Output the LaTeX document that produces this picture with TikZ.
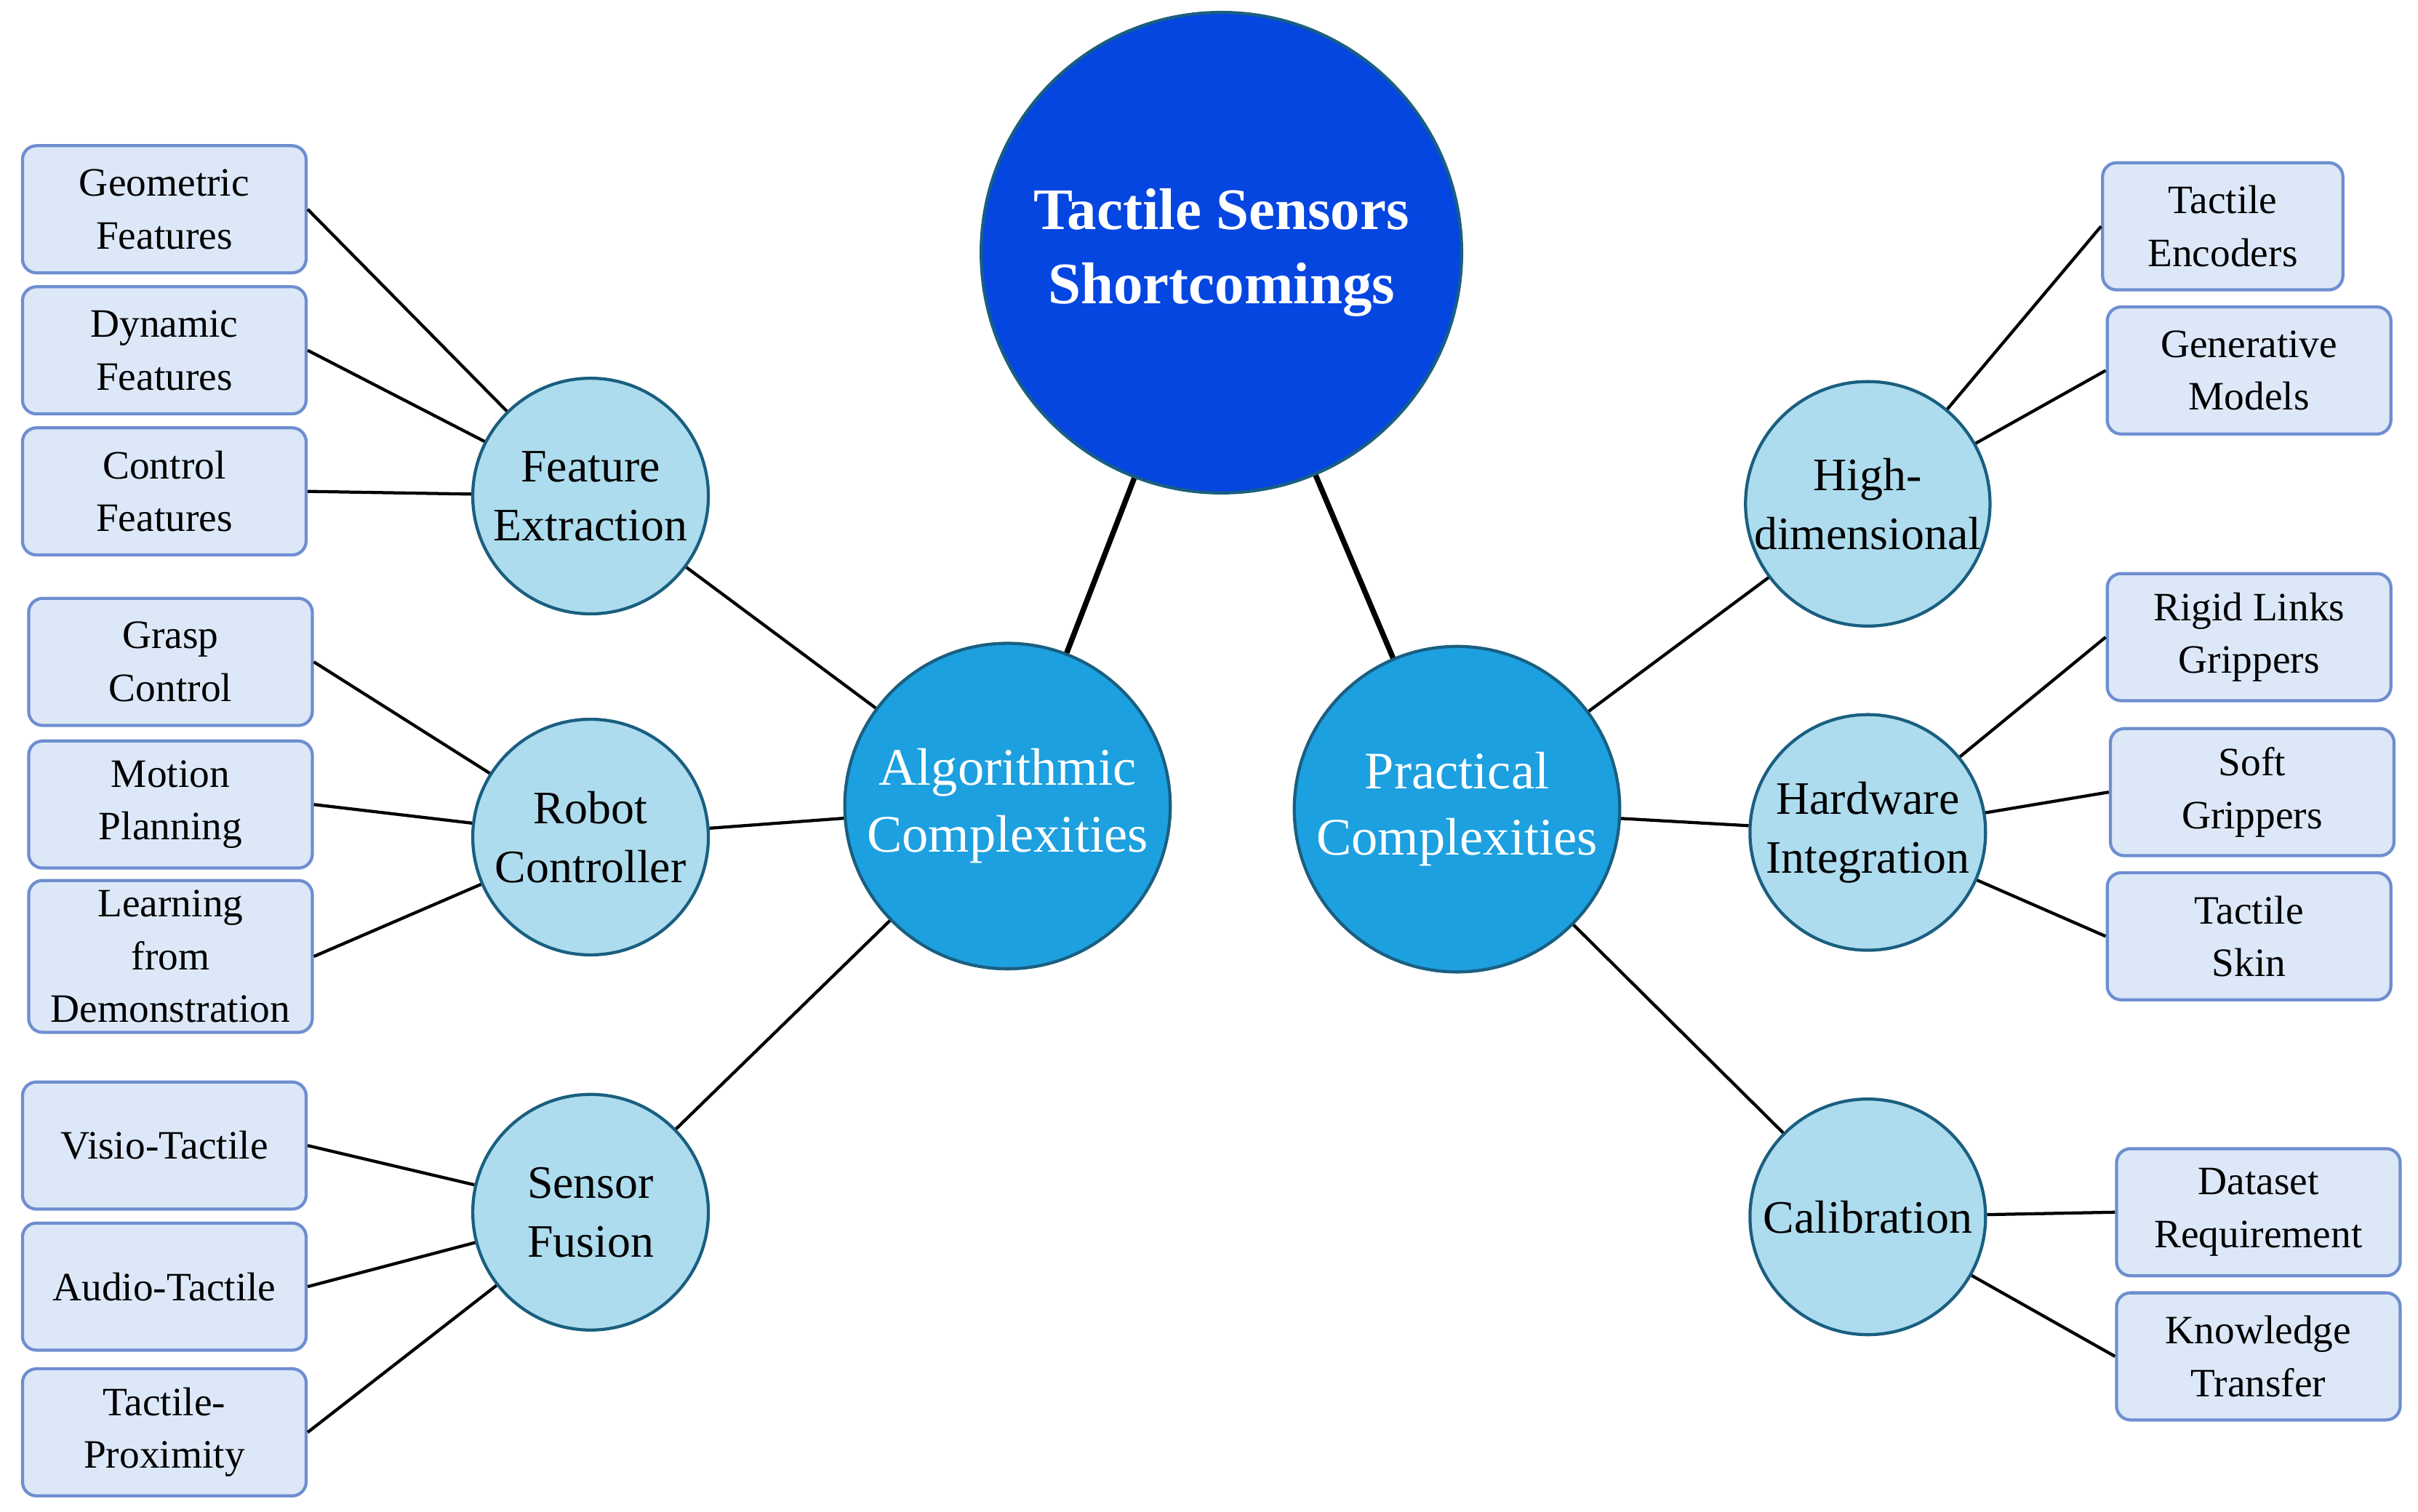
\documentclass[tikz,border=0pt]{standalone}
\usepackage{fontspec}
\setmainfont{Liberation Serif}
\definecolor{rootc}{HTML}{0546E0}
\definecolor{mainc}{HTML}{1CA0E0}
\definecolor{subc}{HTML}{ADDCEE}
\definecolor{leafc}{HTML}{DCE8F8}
\definecolor{leafb}{HTML}{6E8ED0}
\definecolor{edgec}{HTML}{1A5F80}
\begin{document}
\begin{tikzpicture}[x=1pt,y=-1pt,
 root/.style={circle,draw=edgec,line width=2pt,fill=rootc,minimum size=310pt,inner sep=0pt,align=center,text=white,font=\fontsize{38}{48}\selectfont\bfseries},
 main/.style={circle,draw=edgec,line width=2pt,fill=mainc,minimum size=210pt,inner sep=0pt,align=center,text=white,font=\fontsize{34}{43}\selectfont},
 sub/.style={circle,draw=edgec,line width=2pt,fill=subc,minimum size=152pt,inner sep=0pt,align=center,font=\fontsize{30}{38}\selectfont},
 leaf/.style={rectangle,rounded corners=9pt,draw=leafb,line width=2pt,fill=leafc,minimum width=183pt,minimum height=82pt,inner sep=2pt,align=center,font=\fontsize{26}{34}\selectfont},
 e/.style={line width=2pt},
 te/.style={line width=3.5pt}]
\useasboundingbox (0,0) rectangle (1560,975);
\node[root] (r) at (788,163) {Tactile Sensors\\Shortcomings};
\node[main] (a) at (650,520) {Algorithmic\\Complexities};
\node[main] (p) at (940,522) {Practical\\Complexities};
\node[sub] (fe) at (381,320) {Feature\\Extraction};
\node[sub] (rc) at (381,540) {Robot\\Controller};
\node[sub] (sf) at (381,782) {Sensor\\Fusion};
\node[sub] (hd) at (1205,325) {High-\\dimensional};
\node[sub] (hi) at (1205,537) {Hardware\\Integration};
\node[sub] (ca) at (1205,785) {Calibration};
\node[leaf] (l1) at (106,135) {Geometric\\Features};
\node[leaf] (l2) at (106,226) {Dynamic\\Features};
\node[leaf] (l3) at (106,317) {Control\\Features};
\node[leaf] (l4) at (110,427) {Grasp\\Control};
\node[leaf] (l5) at (110,519) {Motion\\Planning};
\node[leaf,minimum height=98pt] (l6) at (110,617) {Learning\\from\\Demonstration};
\node[leaf] (l7) at (106,739) {Visio-Tactile};
\node[leaf] (l8) at (106,830) {Audio-Tactile};
\node[leaf] (l9) at (106,924) {Tactile-\\Proximity};
\node[leaf,minimum width=155pt] (m1) at (1434,146) {Tactile\\Encoders};
\node[leaf] (m2) at (1451,239) {Generative\\Models};
\node[leaf] (m3) at (1451,411) {Rigid Links\\Grippers};
\node[leaf] (m4) at (1453,511) {Soft\\Grippers};
\node[leaf] (m5) at (1451,604) {Tactile\\Skin};
\node[leaf] (m6) at (1457,782) {Dataset\\Requirement};
\node[leaf] (m7) at (1457,875) {Knowledge\\Transfer};
\draw[te] (r) -- (a); \draw[te] (r) -- (p);
\draw[e] (a) -- (fe); \draw[e] (a) -- (rc); \draw[e] (a) -- (sf);
\draw[e] (p) -- (hd); \draw[e] (p) -- (hi); \draw[e] (p) -- (ca);
\draw[e] (fe) -- (l1.east); \draw[e] (fe) -- (l2.east); \draw[e] (fe) -- (l3.east);
\draw[e] (rc) -- (l4.east); \draw[e] (rc) -- (l5.east); \draw[e] (rc) -- (l6.east);
\draw[e] (sf) -- (l7.east); \draw[e] (sf) -- (l8.east); \draw[e] (sf) -- (l9.east);
\draw[e] (hd) -- (m1.west); \draw[e] (hd) -- (m2.west);
\draw[e] (hi) -- (m3.west); \draw[e] (hi) -- (m4.west); \draw[e] (hi) -- (m5.west);
\draw[e] (ca) -- (m6.west); \draw[e] (ca) -- (m7.west);
\end{tikzpicture}
\end{document}
